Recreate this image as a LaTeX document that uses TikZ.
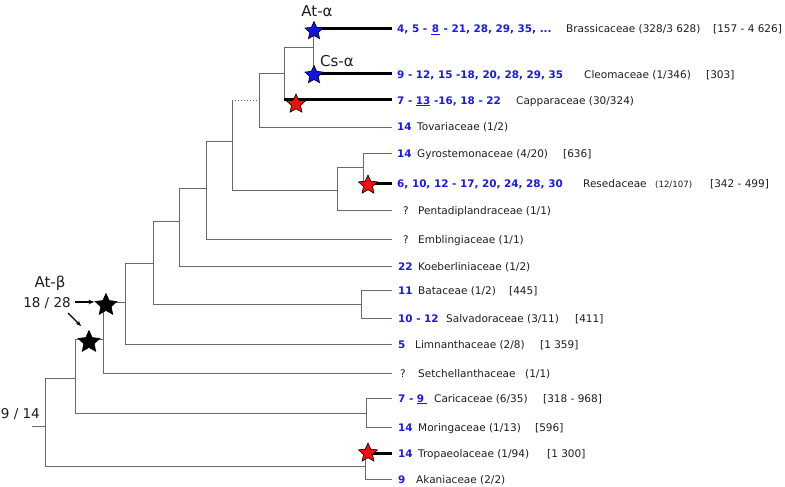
\documentclass[tikz,border=0pt]{standalone}
\usepackage{fontspec}
\setmainfont{DejaVu Sans}
\usetikzlibrary{shapes.geometric,arrows.meta}
\definecolor{numblue}{RGB}{25,25,235}
\definecolor{treegray}{RGB}{105,105,105}
\definecolor{starblue}{RGB}{20,20,225}
\definecolor{starred}{RGB}{240,15,15}
\definecolor{txt}{RGB}{30,30,30}
\begin{document}
\begin{tikzpicture}[x=1pt,y=-1pt,
  br/.style={draw=treegray, line width=1pt},
  thk/.style={draw=black, line width=3pt},
  num/.style={anchor=base west, inner sep=0pt, text=numblue, font=\fontsize{10.4}{12}\selectfont\bfseries},
  nm/.style={anchor=base west, inner sep=0pt, text=txt, font=\fontsize{10.5}{12}\selectfont},
  sm/.style={anchor=base west, inner sep=0pt, text=txt, font=\fontsize{8.6}{10}\selectfont},
  big/.style={inner sep=0pt, text=txt, font=\fontsize{15}{17}\selectfont},
  mid/.style={inner sep=0pt, text=txt, font=\fontsize{13.5}{16}\selectfont},
  starbase/.style={star, star points=5, star point ratio=2.1, inner sep=0pt, draw=black, line width=0.6pt},
  bstar/.style={starbase, fill=starblue, minimum size=19pt},
  rstar/.style={starbase, fill=starred, minimum size=20pt},
  kstar/.style={starbase, fill=black, minimum size=23pt},
  arr/.style={-{Stealth[length=5.5pt,width=4.5pt]}, line width=1.1pt, draw=black}
]
\useasboundingbox (0,0) rectangle (785,487);
\fill[white] (0,0) rectangle (785,487);

% tips
\coordinate (tB) at (392,29);
\coordinate (tC) at (392,74);
\coordinate (tCa) at (392,100);
\coordinate (tT) at (392,127);
\coordinate (tG) at (392,153);
\coordinate (tR) at (392,183);
\coordinate (tP) at (392,210);
\coordinate (tE) at (392,239);
\coordinate (tK) at (392,266);
\coordinate (tBa) at (392,290);
\coordinate (tS) at (392,318);
\coordinate (tL) at (392,344);
\coordinate (tSe) at (392,373);
\coordinate (tCr) at (392,398);
\coordinate (tM) at (392,427);
\coordinate (tTr) at (392,453);
\coordinate (tA) at (392,479);
% internal nodes
\coordinate (n1) at (313,48);
\coordinate (n2) at (284,74);
\coordinate (n3) at (259,101);
\coordinate (n4) at (363,167);
\coordinate (n5) at (337,190);
\coordinate (n6) at (232,141);
\coordinate (n7) at (206,188);
\coordinate (n8) at (179,221);
\coordinate (n9) at (361,304);
\coordinate (n10) at (153,263);
\coordinate (n11) at (125,302);
\coordinate (n12) at (103,339);
\coordinate (n13) at (366,413);
\coordinate (n14) at (75,378);
\coordinate (n15) at (365,466);
\coordinate (rt) at (45,426);
\coordinate (stem) at (32,426);

% verticals
\draw[br] (n1 |- tB) -- (n1 |- tC);
\draw[br] (n2 |- n1) -- (n2 |- tCa);
\draw[br] (n3 |- n2) -- (n3 |- tT);
\draw[br] (n4 |- tG) -- (n4 |- tR);
\draw[br] (n5 |- n4) -- (n5 |- tP);
\draw[br] (n6 |- n3) -- (n6 |- n5);
\draw[br] (n7 |- n6) -- (n7 |- tE);
\draw[br] (n8 |- n7) -- (n8 |- tK);
\draw[br] (n9 |- tBa) -- (n9 |- tS);
\draw[br] (n10 |- n8) -- (n10 |- n9);
\draw[br] (n11 |- n10) -- (n11 |- tL);
\draw[br] (n12 |- n11) -- (n12 |- tSe);
\draw[br] (n13 |- tCr) -- (n13 |- tM);
\draw[br] (n14 |- n12) -- (n14 |- n13);
\draw[br] (n15 |- tTr) -- (n15 |- tA);
\draw[br] (rt |- n14) -- (rt |- n15);
% horizontals
\draw[br] (n2 |- n1) -- (n1);
\draw[br] (n3 |- n2) -- (n2);
\draw[br] (n3 |- tT) -- (tT);
\draw[br, dotted] (n6 |- n3) -- (n3);
\draw[br] (n4 |- tG) -- (tG);
\draw[br] (n5 |- n4) -- (n4);
\draw[br] (n5 |- tP) -- (tP);
\draw[br] (n6 |- n5) -- (n5);
\draw[br] (n7 |- n6) -- (n6);
\draw[br] (n7 |- tE) -- (tE);
\draw[br] (n8 |- n7) -- (n7);
\draw[br] (n8 |- tK) -- (tK);
\draw[br] (n9 |- tBa) -- (tBa);
\draw[br] (n9 |- tS) -- (tS);
\draw[br] (n10 |- n8) -- (n8);
\draw[br] (n10 |- n9) -- (n9);
\draw[br] (n11 |- n10) -- (n10);
\draw[br] (n11 |- tL) -- (tL);
\draw[br] (n12 |- n11) -- (n11);
\draw[br] (n12 |- tSe) -- (tSe);
\draw[br] (n13 |- tCr) -- (tCr);
\draw[br] (n13 |- tM) -- (tM);
\draw[br] (n14 |- n12) -- (n12);
\draw[br] (n14 |- n13) -- (n13);
\draw[br] (n15 |- tA) -- (tA);
\draw[br] (rt |- n14) -- (n14);
\draw[br] (rt |- n15) -- (n15);
\draw[br] (stem) -- (rt);
% thick lineages
\draw[thk] (n1 |- tB) -- (tB);
\draw[thk] (n1 |- tC) -- (tC);
\draw[thk] (n2 |- tCa) -- (tCa);
\draw[thk] (n4 |- tR) -- (tR);
\draw[thk] (n15 |- tTr) -- (tTr);

% stars
\node[bstar] (sAt) at (314,31) {};
\node[bstar] (sCs) at (314,75) {};
\node[rstar] (sCa) at (296,104) {};
\node[rstar] (sRe) at (368,185) {};
\node[rstar] (sTr) at (368,453) {};
\node[kstar] (sU) at (106,305) {};
\node[kstar] (sL) at (89,342) {};

% event labels
\node[big] (lAt) at (317,11) {At-α};
\node[big] (lCs) at (337,61) {Cs-α};
\node[big] (lAtb) at (50,283) {At-β};
\node[mid] (l1828) at (47,303) {18 / 28};
\node[mid, anchor=east] (l914) at (40,414) {9 / 14};
\coordinate (a1e) at (94,302);
\coordinate (a2s) at (68,313);
\coordinate (a2e) at (81,326);
\draw[arr, shorten <=4pt] (l1828.east |- a1e) -- (a1e);
\draw[arr] (a2s) -- (a2e);

% tip labels
\node[num] (c1) at (397,33) {4, 5 - \underline{\kern1pt8\kern1pt} - 21, 28, 29, 35, ...};
\node[nm] (f1) at (566,33) {Brassicaceae (328/3 628)};
\node[nm] (g1) at (713,33) {[157 - 4 626]};

\node[num] (c2) at (397,78) {9 - 12, 15 -18, 20, 28, 29, 35};
\node[nm] (f2) at (584,78) {Cleomaceae (1/346)};
\node[nm] (g2) at (706,78) {[303]};

\node[num] (c3) at (397,104) {7 - \underline{13} -16, 18 - 22};
\node[nm] (f3) at (516,104) {Capparaceae (30/324)};

\node[num] (c4) at (397,131) {14};
\node[nm] (f4) at (417,131) {Tovariaceae (1/2)};

\node[num] (c5) at (397,157) {14};
\node[nm] (f5) at (417,157) {Gyrostemonaceae (4/20)};
\node[nm] (g5) at (563,157) {[636]};

\node[num] (c6) at (397,187) {6, 10, 12 - 17, 20, 24, 28, 30};
\node[nm] (f6) at (583,187) {Resedaceae};
\node[sm] (h6) at (655,187) {(12/107)};
\node[nm] (g6) at (710,187) {[342 - 499]};

\node[nm] (c7) at (403,214) {?};
\node[nm] (f7) at (418,214) {Pentadiplandraceae (1/1)};

\node[nm] (c8) at (403,243) {?};
\node[nm] (f8) at (418,243) {Emblingiaceae (1/1)};

\node[num] (c9) at (398,270) {22};
\node[nm] (f9) at (418,270) {Koeberliniaceae (1/2)};

\node[num] (c10) at (398,294) {11};
\node[nm] (f10) at (418,294) {Bataceae (1/2)};
\node[nm] (g10) at (509,294) {[445]};

\node[num] (c11) at (398,322) {10 - 12};
\node[nm] (f11) at (446,322) {Salvadoraceae (3/11)};
\node[nm] (g11) at (575,322) {[411]};

\node[num] (c12) at (398,348) {5};
\node[nm] (f12) at (415,348) {Limnanthaceae (2/8)};
\node[nm] (g12) at (540,348) {[1 359]};

\node[nm] (c13) at (400,377) {?};
\node[nm] (f13) at (418,377) {Setchellanthaceae};
\node[nm] (g13) at (525,377) {(1/1)};

\node[num] (c14) at (398,402) {7 - \underline{9\kern3pt}};
\node[nm] (f14) at (434,402) {Caricaceae (6/35)};
\node[nm] (g14) at (543,402) {[318 - 968]};

\node[num] (c15) at (398,431) {14};
\node[nm] (f15) at (418,431) {Moringaceae (1/13)};
\node[nm] (g15) at (535,431) {[596]};

\node[num] (c16) at (398,457) {14};
\node[nm] (f16) at (418,457) {Tropaeolaceae (1/94)};
\node[nm] (g16) at (547,457) {[1 300]};

\node[num] (c17) at (398,483) {9};
\node[nm] (f17) at (416,483) {Akaniaceae (2/2)};
\end{tikzpicture}
\end{document}
